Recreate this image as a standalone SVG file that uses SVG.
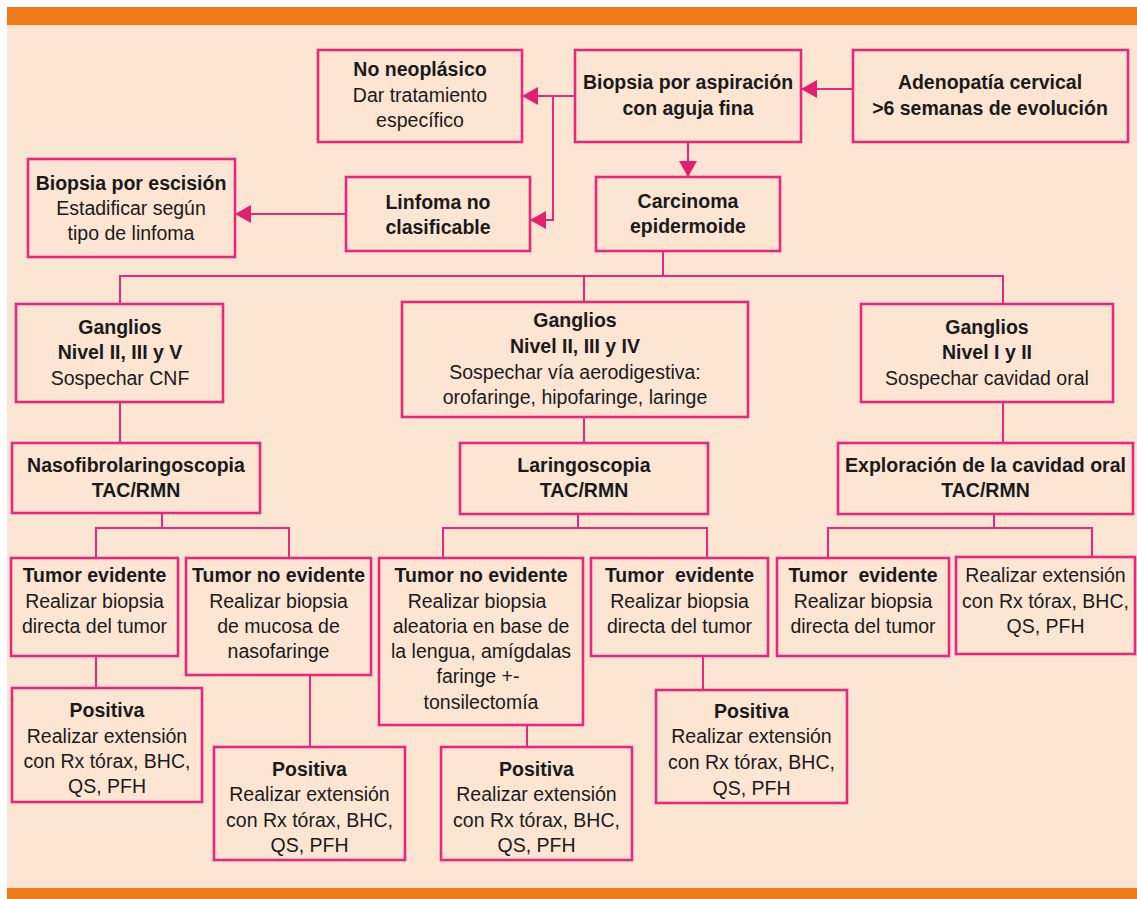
<svg xmlns="http://www.w3.org/2000/svg" width="1137" height="899" viewBox="0 0 1137 899">
<style>
.box{fill:none;stroke:#E8287A;stroke-width:2.6}
.ln{fill:none;stroke:#E8287A;stroke-width:2}
text{font-family:"Liberation Sans",Arial,sans-serif;font-size:19.5px;fill:#1a1a1a;text-anchor:middle}
.b{font-weight:bold}
</style>
<defs>
<marker id="ah" markerUnits="userSpaceOnUse" markerWidth="17" markerHeight="18" refX="16" refY="9" orient="auto">
<path d="M0,0 L16,9 L0,18 z" fill="#E3206F"/>
</marker>
</defs>
<rect x="0" y="0" width="1137" height="899" fill="#ffffff"/>
<rect x="7" y="7" width="1130" height="892" fill="#FDE5D4"/>
<rect x="7" y="7" width="1130" height="18" fill="#EF7A18"/>
<rect x="7" y="888" width="1130" height="11" fill="#EF7A18"/>

<g id="connectors">
<line class="ln" x1="853" y1="89" x2="801" y2="89" marker-end="url(#ah)"/>
<line class="ln" x1="575" y1="96" x2="522" y2="96" marker-end="url(#ah)"/>
<polyline class="ln" points="553,96 553,220 530,220" marker-end="url(#ah)"/>
<line class="ln" x1="688" y1="142" x2="688" y2="177" marker-end="url(#ah)"/>
<line class="ln" x1="346" y1="214" x2="235" y2="214" marker-end="url(#ah)"/>
<polyline class="ln" points="663,251 663,276"/>
<polyline class="ln" points="120,304 120,276 1003,276 1003,304"/>
<line class="ln" x1="584" y1="276" x2="584" y2="302"/>
<line class="ln" x1="120" y1="402" x2="120" y2="443"/>
<line class="ln" x1="584" y1="417" x2="584" y2="443"/>
<line class="ln" x1="1003" y1="402" x2="1003" y2="443"/>
<line class="ln" x1="162" y1="513" x2="162" y2="528"/>
<polyline class="ln" points="96,558 96,528 289,528 289,558"/>
<line class="ln" x1="578" y1="514" x2="578" y2="528"/>
<polyline class="ln" points="443,558 443,528 707,528 707,558"/>
<line class="ln" x1="994" y1="514" x2="994" y2="528"/>
<polyline class="ln" points="828,557 828,528 1092,528 1092,557"/>
<line class="ln" x1="96" y1="656" x2="96" y2="688"/>
<line class="ln" x1="310" y1="675" x2="310" y2="747"/>
<line class="ln" x1="527" y1="725" x2="527" y2="747"/>
<line class="ln" x1="703" y1="656" x2="703" y2="690"/>
</g>

<g id="no-neoplasico">
<rect class="box" x="318" y="50" width="204" height="92"/>
<text x="420" y="76" class="b">No neoplásico</text>
<text x="420" y="102">Dar tratamiento</text>
<text x="420" y="127">específico</text>
</g>
<g id="biopsia-aspiracion">
<rect class="box" x="575" y="50" width="226" height="92"/>
<text x="688" y="89" class="b">Biopsia por aspiración</text>
<text x="688" y="115" class="b">con aguja fina</text>
</g>
<g id="adenopatia">
<rect class="box" x="853" y="50" width="275" height="92"/>
<text x="990" y="89" class="b">Adenopatía cervical</text>
<text x="990" y="115" class="b">&gt;6 semanas de evolución</text>
</g>
<g id="biopsia-escision">
<rect class="box" x="28" y="159" width="207" height="98"/>
<text x="131" y="190" class="b">Biopsia por escisión</text>
<text x="131" y="215">Estadificar según</text>
<text x="131" y="240">tipo de linfoma</text>
</g>
<g id="linfoma">
<rect class="box" x="346" y="177" width="184" height="74"/>
<text x="438" y="209" class="b">Linfoma no</text>
<text x="438" y="234" class="b">clasificable</text>
</g>
<g id="carcinoma">
<rect class="box" x="596" y="177" width="184" height="74"/>
<text x="688" y="208" class="b">Carcinoma</text>
<text x="688" y="233" class="b">epidermoide</text>
</g>

<g id="ganglios-1">
<rect class="box" x="16" y="304" width="207" height="98"/>
<text x="120" y="334" class="b">Ganglios</text>
<text x="120" y="359" class="b">Nivel II, III y V</text>
<text x="120" y="385">Sospechar CNF</text>
</g>
<g id="ganglios-2">
<rect class="box" x="402" y="302" width="346" height="115"/>
<text x="575" y="327" class="b">Ganglios</text>
<text x="575" y="353" class="b">Nivel II, III y IV</text>
<text x="575" y="379">Sospechar vía aerodigestiva:</text>
<text x="575" y="404">orofaringe, hipofaringe, laringe</text>
</g>
<g id="ganglios-3">
<rect class="box" x="861" y="304" width="252" height="98"/>
<text x="987" y="334" class="b">Ganglios</text>
<text x="987" y="359" class="b">Nivel I y II</text>
<text x="987" y="385">Sospechar cavidad oral</text>
</g>

<g id="nasofibro">
<rect class="box" x="12" y="443" width="248" height="70"/>
<text x="136" y="472" class="b">Nasofibrolaringoscopia</text>
<text x="136" y="497" class="b">TAC/RMN</text>
</g>
<g id="laringoscopia">
<rect class="box" x="460" y="443" width="248" height="71"/>
<text x="584" y="472" class="b">Laringoscopia</text>
<text x="584" y="497" class="b">TAC/RMN</text>
</g>
<g id="exploracion">
<rect class="box" x="838" y="443" width="295" height="71"/>
<text x="985.5" y="472" class="b" textLength="281" lengthAdjust="spacingAndGlyphs">Exploración de la cavidad oral</text>
<text x="985.5" y="497" class="b">TAC/RMN</text>
</g>

<g id="tumor-evidente-1">
<rect class="box" x="11" y="558" width="167" height="98"/>
<text x="94.5" y="582" class="b">Tumor evidente</text>
<text x="94.5" y="608">Realizar biopsia</text>
<text x="94.5" y="633">directa del tumor</text>
</g>
<g id="tumor-no-evidente-1">
<rect class="box" x="186" y="558" width="185" height="117"/>
<text x="278.5" y="582" class="b">Tumor no evidente</text>
<text x="278.5" y="608">Realizar biopsia</text>
<text x="278.5" y="633">de mucosa de</text>
<text x="278.5" y="658">nasofaringe</text>
</g>
<g id="tumor-no-evidente-2">
<rect class="box" x="379" y="558" width="204" height="167"/>
<text x="481" y="582" class="b">Tumor no evidente</text>
<text x="477" y="608">Realizar biopsia</text>
<text x="481" y="633">aleatoria en base de</text>
<text x="481" y="658">la lengua, amígdalas</text>
<text x="478" y="683">faringe +-</text>
<text x="481" y="709">tonsilectomía</text>
</g>
<g id="tumor-evidente-2">
<rect class="box" x="591" y="558" width="177" height="98"/>
<text x="679.5" y="582" class="b" xml:space="preserve" style="white-space:pre">Tumor  evidente</text>
<text x="679.5" y="608">Realizar biopsia</text>
<text x="679.5" y="633">directa del tumor</text>
</g>
<g id="tumor-evidente-3">
<rect class="box" x="777" y="558" width="172" height="98"/>
<text x="863" y="582" class="b" xml:space="preserve" style="white-space:pre">Tumor  evidente</text>
<text x="863" y="608">Realizar biopsia</text>
<text x="863" y="633">directa del tumor</text>
</g>
<g id="extension-3">
<rect class="box" x="956" y="557" width="179" height="97"/>
<text x="1045.5" y="582">Realizar extensión</text>
<text x="1045.5" y="608">con Rx tórax, BHC,</text>
<text x="1045.5" y="633">QS, PFH</text>
</g>

<g id="positiva-1">
<rect class="box" x="12" y="688" width="190" height="114"/>
<text x="107" y="717" class="b">Positiva</text>
<text x="107" y="743">Realizar extensión</text>
<text x="107" y="768">con Rx tórax, BHC,</text>
<text x="107" y="793">QS, PFH</text>
</g>
<g id="positiva-2">
<rect class="box" x="214" y="747" width="191" height="113"/>
<text x="309.5" y="776" class="b">Positiva</text>
<text x="309.5" y="801">Realizar extensión</text>
<text x="309.5" y="827">con Rx tórax, BHC,</text>
<text x="309.5" y="852">QS, PFH</text>
</g>
<g id="positiva-3">
<rect class="box" x="441" y="747" width="191" height="113"/>
<text x="536.5" y="776" class="b">Positiva</text>
<text x="536.5" y="801">Realizar extensión</text>
<text x="536.5" y="827">con Rx tórax, BHC,</text>
<text x="536.5" y="852">QS, PFH</text>
</g>
<g id="positiva-4">
<rect class="box" x="656" y="690" width="191" height="113"/>
<text x="751.5" y="718" class="b">Positiva</text>
<text x="751.5" y="743">Realizar extensión</text>
<text x="751.5" y="769">con Rx tórax, BHC,</text>
<text x="751.5" y="795">QS, PFH</text>
</g>
</svg>
